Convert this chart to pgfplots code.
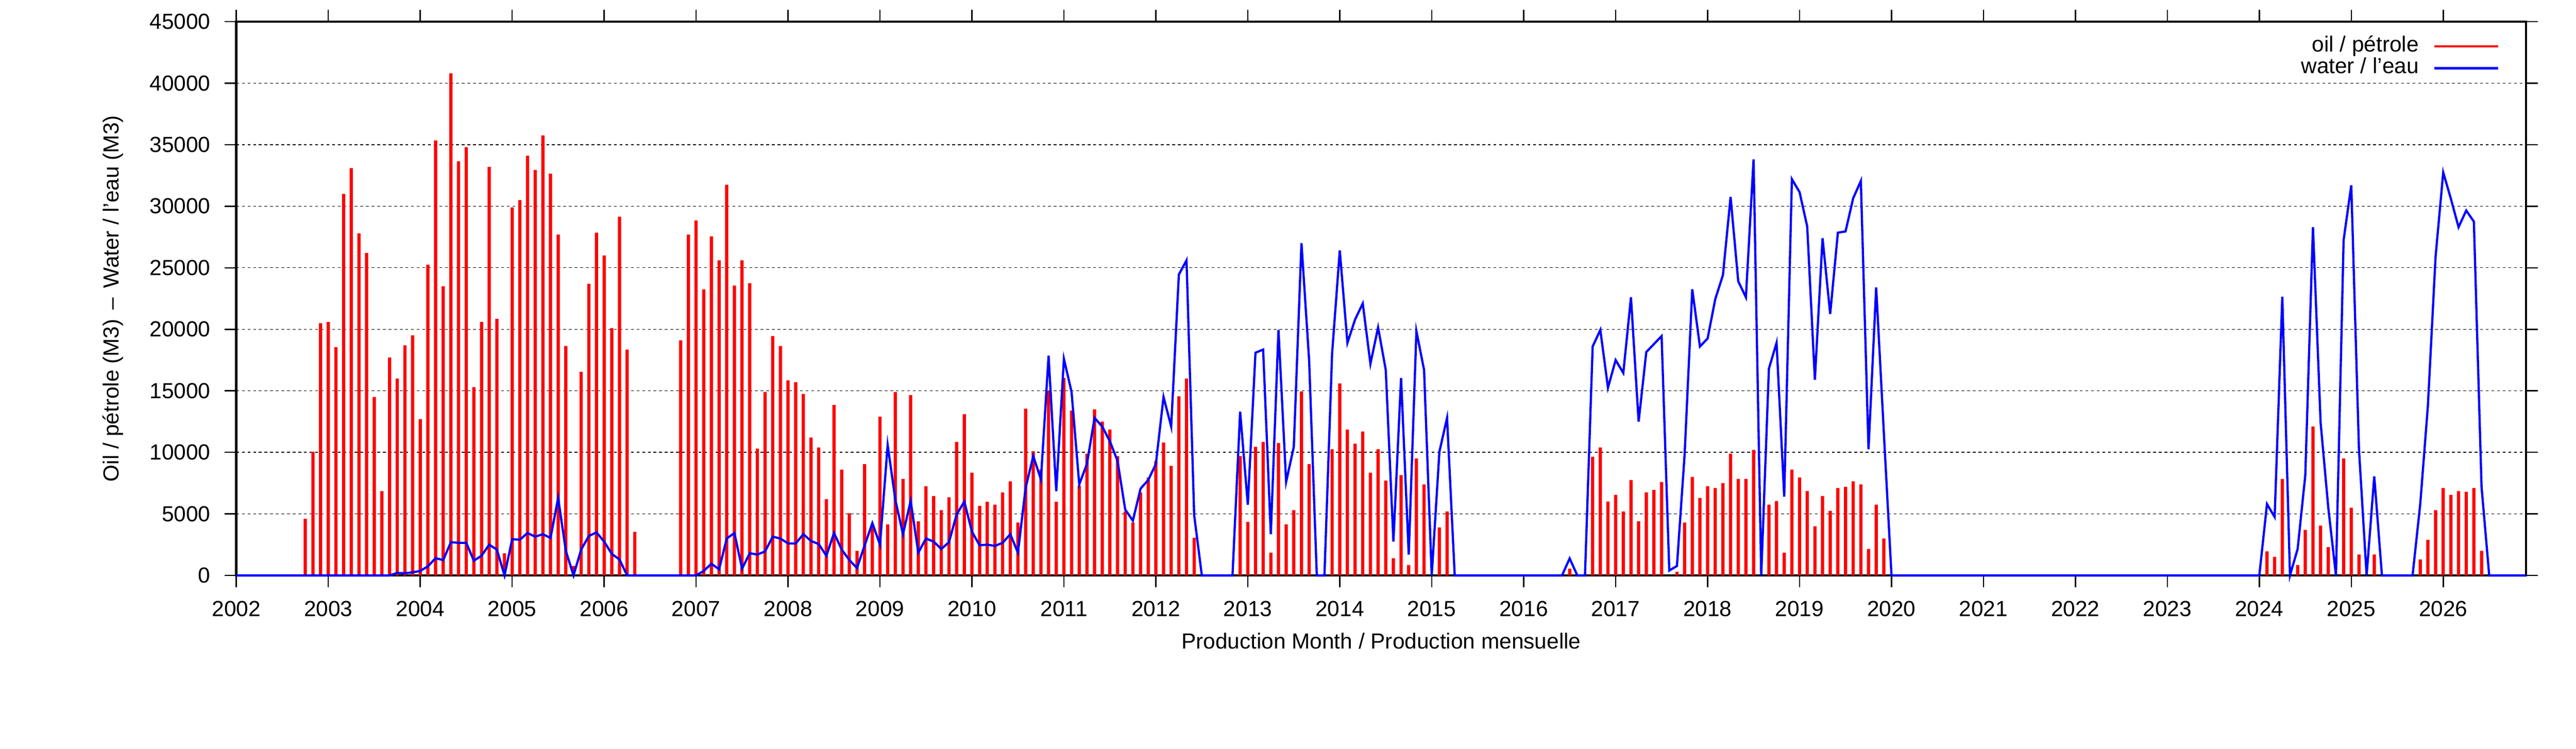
\documentclass[border=0pt]{standalone}
\usepackage{fontspec}
\setmainfont{Liberation Sans}
\usepackage{pgfplots}
\pgfplotsset{compat=1.18}
\definecolor{oilred}{RGB}{255,0,0}
\definecolor{waterblue}{RGB}{0,0,255}
\begin{document}
\fontsize{9.3bp}{11bp}\selectfont
\begin{tikzpicture}
\path[use as bounding box] (0,0) rectangle (1096.6bp,318.8bp);
\begin{axis}[
  at={(100.6bp,73.8bp)}, anchor=south west,
  scale only axis, width=974.7bp, height=235.8bp,
  xmin=0, xmax=298.8, ymin=0, ymax=45000,
  clip=false,
  xtick={0,12,...,288},
  xticklabels={2002,2003,2004,2005,2006,2007,2008,2009,2010,2011,2012,2013,2014,2015,2016,2017,2018,2019,2020,2021,2022,2023,2024,2025,2026},
  ytick={0,5000,...,45000},
  scaled y ticks=false,
  /pgf/number format/1000 sep={},
  /pgf/number format/assume math mode=true,
  tick align=outside, major tick length=5bp,
  tick style={line width=0.55bp, black},
  axis line style={line width=1bp},
  ymajorgrids,
  major grid style={line width=0.3bp, black, dash pattern=on 1.2bp off 1.2bp},
  xticklabel style={anchor=north, inner sep=0pt, yshift=-5.8bp},
  yticklabel style={anchor=east, inner sep=0pt, xshift=-5.8bp},
  xlabel={Production Month / Production mensuelle},
  ylabel={Oil / pétrole (M3)\hspace{0.15em} – \hspace{0.15em}Water / l’eau (M3)},
  xlabel style={at={(rel axis cs:0.5,-0.1323)}, anchor=base},
  ylabel style={at={(rel axis cs:-0.0513,0.5)}, anchor=base},
  legend plot pos=right,
  legend style={draw=none, fill=none, at={(rel axis cs:1,1)}, anchor=north east,
    xshift=-11.4bp, yshift=-5.9bp, inner sep=0pt, outer sep=0pt,
    row sep=0pt, column sep=6bp,
    nodes={inner sep=0pt, text height=6.9bp, text depth=2.4bp},
    cells={anchor=east}},
]
\addplot[ybar, bar width=0.42, fill=oilred, draw=none,
  legend image code/.code={\draw[oilred, line width=1bp] (0bp,0bp) -- (27.2bp,0bp);}]
coordinates {
(9,4600) (10,10050) (11,20500) (12,20600) (13,18550) (14,31000) (15,33100) (16,27800) (17,26200) (18,14500) (19,6850) (20,17700) (21,16000) (22,18700) (23,19500) (24,12700) (25,25250) (26,35350) (27,23500) (28,40800) (29,33650) (30,34800) (31,15300) (32,20600) (33,33200) (34,20850) (35,1800) (36,29900) (37,30500) (38,34100) (39,32950) (40,35750) (41,32650) (42,27700) (43,18650) (44,770) (45,16550) (46,23700) (47,27850) (48,26000) (49,20100) (50,29150) (51,18350) (52,3550)
(58,19100) (59,27700) (60,28850) (61,23250) (62,27550) (63,25600) (64,31750) (65,23550) (66,25600) (67,23750) (68,10300) (69,14900) (70,19450) (71,18650) (72,15850) (73,15700) (74,14750) (75,11200) (76,10400) (77,6200) (78,13850) (79,8600) (80,5050) (81,2000) (82,9050) (83,3950) (84,12900) (85,4150) (86,14900) (87,7850) (88,14650) (89,4400) (90,7250) (91,6450) (92,5300) (93,6350) (94,10850) (95,13100) (96,8350) (97,5650) (98,5980) (99,5750) (100,6750) (101,7650) (102,4300) (103,13550) (104,10100) (105,8600) (106,15000) (107,5980) (108,16050) (109,13400) (110,7300) (111,9900) (112,13500) (113,12500) (114,11850) (115,9700) (116,5200) (117,4300) (118,6750) (119,7950) (120,9300) (121,10800) (122,8900) (123,14550) (124,16000) (125,3050)
(131,9700) (132,4350) (133,10450) (134,10850) (135,1850) (136,10750) (137,4150) (138,5300) (139,14950) (140,9050) (143,10250) (144,15600) (145,11850) (146,10700) (147,11700) (148,8350) (149,10250) (150,7700) (151,1400) (152,8150) (153,850) (154,9500) (155,7400) (157,3900) (158,5200)
(174,550) (177,9650) (178,10400) (179,6000) (180,6550) (181,5200) (182,7750) (183,4400) (184,6750) (185,6950) (186,7600) (188,300) (189,4300) (190,8000) (191,6300) (192,7250) (193,7100) (194,7500) (195,9900) (196,7850) (197,7850) (198,10200) (200,5750) (201,6050) (202,1850) (203,8600) (204,7950) (205,6850) (206,4000) (207,6450) (208,5250) (209,7100) (210,7200) (211,7650) (212,7400) (213,2150) (214,5750) (215,3000)
(265,1950) (266,1500) (267,7850) (269,850) (270,3700) (271,12100) (272,4050) (273,2300) (275,9500) (276,5500) (277,1700) (279,1700) (285,1300) (286,2900) (287,5300) (288,7100) (289,6550) (290,6850) (291,6800) (292,7100) (293,2000)
};
\addlegendentry{oil / pétrole}
\addplot[waterblue, line width=0.95bp, mark=none, sharp plot,
  legend image code/.code={\draw[waterblue, line width=1bp] (0bp,0bp) -- (27.2bp,0bp);}]
coordinates {
(0,0) (20,0) (21,200) (22,180) (23,250) (24,370) (25,740) (26,1400) (27,1250) (28,2700) (29,2650) (30,2650) (31,1200) (32,1600) (33,2500) (34,2100) (35,0) (36,2950) (37,2900) (38,3450) (39,3150) (40,3350) (41,3050) (42,6300) (43,2000) (44,0) (45,2100) (46,3200) (47,3500) (48,2750) (49,1750) (50,1300) (51,0) (60,0)
(61,370) (62,950) (63,500) (64,3000) (65,3450) (66,550) (67,1800) (68,1700) (69,1950) (70,3150) (71,3000) (72,2600) (73,2600) (74,3350) (75,2800) (76,2550) (77,1600) (78,3450) (79,2100) (80,1250) (81,600) (82,2450) (83,4250) (84,2500) (85,10600) (86,6150) (87,3350) (88,6050) (89,1850) (90,3000) (91,2750) (92,2150) (93,2700) (94,4950) (95,6000) (96,3550) (97,2450) (98,2500) (99,2400) (100,2650) (101,3350) (102,1850) (103,7100) (104,9700) (105,7800) (106,17850) (107,6850) (108,17600) (109,14900) (110,7400) (111,9050) (112,12800) (113,12100) (114,10900) (115,9300) (116,5350) (117,4450) (118,7050) (119,7750) (120,9050) (121,14500) (122,12100) (123,24450) (124,25600) (125,4900) (126,0) (130,0)
(131,13300) (132,5750) (133,18100) (134,18350) (135,3350) (136,19950) (137,7600) (138,10450) (139,27000) (140,17500) (141,0) (142,0) (143,18050) (144,26400) (145,18900) (146,20800) (147,22100) (148,17200) (149,20150) (150,16700) (151,2750) (152,16050) (153,1700) (154,19850) (155,16700) (156,0) (157,10050) (158,12800) (159,0) (173,0)
(174,1380) (175,0) (176,0) (177,18600) (178,19950) (179,15250) (180,17500) (181,16450) (182,22600) (183,12500) (184,18150) (185,18800) (186,19450) (187,400) (188,770) (189,9800) (190,23250) (191,18600) (192,19250) (193,22450) (194,24400) (195,30750) (196,23900) (197,22600) (198,33800) (199,0) (200,16800) (201,18900) (202,6400) (203,32200) (204,31150) (205,28350) (206,15900) (207,27400) (208,21250) (209,27850) (210,27950) (211,30650) (212,32050) (213,10250) (214,23400) (215,11600) (216,0) (264,0)
(265,5800) (266,4750) (267,22650) (268,0) (269,2150) (270,8150) (271,28300) (272,12400) (273,5500) (274,0) (275,27250) (276,31700) (277,10300) (278,0) (279,8050) (280,0) (284,0) (285,5800) (286,13800) (287,25900) (288,32750) (289,30600) (290,28300) (291,29650) (292,28750) (293,7200) (294,0) (298.8,0)
};
\addlegendentry{water / l’eau}
\end{axis}
\end{tikzpicture}
\end{document}
